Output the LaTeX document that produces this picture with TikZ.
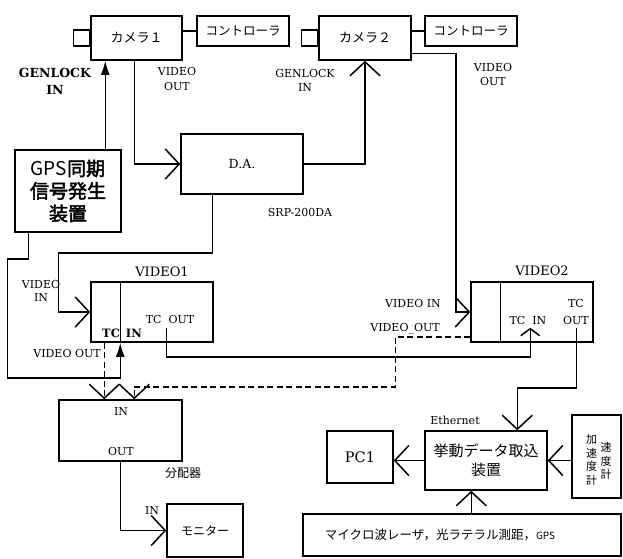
\documentclass[tikz,border=0pt]{standalone}
\usepackage{fontspec}
\setmainfont{DejaVu Serif}
\newfontfamily\cjk{Noto Sans CJK JP}
\newfontfamily\cjkb[FakeBold=2.5]{Noto Sans CJK JP}
\usetikzlibrary{arrows.meta,calc}
\begin{document}
\begin{tikzpicture}[x=1pt,y=-1pt,line width=1.5pt,
  bx/.style={draw,inner sep=0pt},
  lbl/.style={inner sep=0pt,align=center,font=\fontsize{11}{14}\selectfont},
  oa/.style={-{Straight Barb[length=14pt,width=30pt]}},
  sa/.style={-{Straight Barb[length=7pt,width=19pt]}},
  fa/.style={-{Latex[length=14pt,width=9pt]}},
  dsh/.style={dash pattern=on 6pt off 3.5pt}]
\useasboundingbox (0,0) rectangle (623,558);
% boxes
\node[bx,minimum width=91pt,minimum height=44pt,font=\cjk\fontsize{13}{15}\selectfont] (cam1) at (136.5,38) {カメラ１};
\node[bx,minimum width=16pt,minimum height=16pt,anchor=east] (plug1) at (cam1.west) {};
\node[bx,minimum width=92pt,minimum height=30pt,font=\cjk\fontsize{12.5}{15}\selectfont] (ctrl1) at (243,31) {コントローラ};
\node[bx,minimum width=92pt,minimum height=44pt,font=\cjk\fontsize{13}{15}\selectfont] (cam2) at (365,38) {カメラ２};
\node[bx,minimum width=16pt,minimum height=16pt,anchor=east] (plug2) at (cam2.west) {};
\node[bx,minimum width=92pt,minimum height=30pt,font=\cjk\fontsize{12.5}{15}\selectfont] (ctrl2) at (471,31) {コントローラ};
\draw (ctrl1.west) -- (ctrl1.west -| cam1.east);
\draw (ctrl2.west) -- (ctrl2.west -| cam2.east);
\node[bx,minimum width=122pt,minimum height=60pt,font=\fontsize{12.5}{15}\selectfont] (DA) at (242,164) {D.A.};
\node[bx,minimum width=106pt,minimum height=82pt,align=center,font=\fontsize{19}{22.5}\selectfont] (GPS) at (68,191) {{\cjk GPS}{\cjkb 同期}\\{\cjkb 信号発生}\\{\cjkb 装置}};
\node[bx,minimum width=122pt,minimum height=60pt] (VIDEO1) at (152,312) {};
\draw ([xshift=30pt]VIDEO1.north west) -- ([xshift=30pt]VIDEO1.south west);
\node[bx,minimum width=122pt,minimum height=60pt] (VIDEO2) at (532,312) {};
\draw ([xshift=30pt]VIDEO2.north west) -- ([xshift=30pt]VIDEO2.south west);
\node[bx,minimum width=123pt,minimum height=61pt] (dist) at (120.5,430.5) {};
\node[bx,minimum width=76pt,minimum height=53pt,font=\cjk\fontsize{12}{14}\selectfont] (monitor) at (205,530.5) {モニター};
\node[bx,minimum width=66pt,minimum height=52pt,font=\fontsize{14.5}{16}\selectfont] (PC1) at (360,457) {PC1};
\node[bx,minimum width=122pt,minimum height=59pt,align=center,font=\cjk\fontsize{15}{19}\selectfont] (kyodo) at (486,460.5) {挙動データ取込\\装置};
\node[bx,minimum width=49pt,minimum height=83pt] (accel) at (596.5,456.5) {};
\node[inner sep=0pt,align=center,font=\cjk\fontsize{11}{13.5}\selectfont] (acc1) at (591.5,460) {加\\速\\度\\計};
\node[inner sep=0pt,align=center,font=\cjk\fontsize{11}{13.5}\selectfont] (acc2) at (606,461) {速\\度\\計};
\node[bx,minimum width=318pt,minimum height=42pt] (bottom) at (462,535) {};
\node[inner sep=0pt,font=\cjk\fontsize{12.5}{14}\selectfont] (btxt) at (440,535) {マイクロ波レーザ，光ラテラル測距，{\fontsize{10}{12}\selectfont GPS}};
% ports
\coordinate (c1gl) at ([xshift=15pt]cam1.south west);
\coordinate (c1vo) at ([xshift=44pt]cam1.south west);
\coordinate (c2vo) at ([yshift=-38pt]cam2.north east);
\coordinate (dao) at ([xshift=32pt]DA.south west);
\coordinate (gpso) at ([xshift=14pt]GPS.south west);
\coordinate (v1tcin) at ([xshift=30pt]VIDEO1.south west);
\coordinate (v1tcout) at ([xshift=76pt,yshift=15pt]VIDEO1.south west);
\coordinate (v1vo) at ([xshift=14pt]VIDEO1.south west);
\coordinate (v2tcin) at ([xshift=60pt,yshift=15pt]VIDEO2.south west);
\coordinate (v2tcout) at ([xshift=106pt,yshift=15pt]VIDEO2.south west);
\coordinate (v2vo) at ([yshift=6pt]VIDEO2.south west);
\coordinate (din1) at ([xshift=46pt]dist.north west);
\coordinate (din2) at ([xshift=76pt]dist.north west);
\coordinate (kin) at ([xshift=93pt]kyodo.north west);
\coordinate (bout) at ([xshift=169pt]bottom.north west);
% connectors
\draw[fa] (c1gl |- GPS.north) -- (c1gl);
\draw[oa] (c1vo) |- (DA.west);
\draw[oa] (DA.east) -| (cam2.south);
\draw[oa] (c2vo) -- ++(44,0) |- (VIDEO2.west);
\draw[oa] (dao) -- ++(0,58) -- ++(-154,0) |- (VIDEO1.west);
\draw[fa] (gpso) -- ++(0,26) -- ++(-21,0) -- ++(0,119) -| (v1tcin);
\draw[sa] (v1tcout) -- ++(0,29) -| (v2tcin);
\draw[oa,dsh] (v1vo) -- (din1);
\draw[oa,dsh] (v2vo) -- ++(-75,0) -- ++(0,50) -| (din2);
\draw[oa] (dist.south) |- (monitor.west);
\draw[oa] (v2tcout) -- ++(0,60) -| (kin);
\draw[oa] (kyodo.west) -- (kyodo.west -| PC1.east);
\draw[oa] (accel.west |- kyodo.east) -- (kyodo.east);
\draw[oa] (bout) -- (bout |- kyodo.south);
% labels
\node[lbl,font=\bfseries\fontsize{12.5}{17}\selectfont] (glk1) at (55,81.5) {GENLOCK\\IN};
\node[lbl,font=\fontsize{11}{15}\selectfont] (vo1) at (177,78.5) {VIDEO\\OUT};
\node[lbl,font=\fontsize{11}{14}\selectfont] (glk2) at (305,80) {GENLOCK\\IN};
\node[lbl,font=\fontsize{11}{14}\selectfont] (vo2) at (493,74.5) {VIDEO\\OUT};
\node[lbl] (srp) at (300,212) {SRP-200DA};
\node[lbl,font=\fontsize{13}{15}\selectfont] (v1t) at (162,272) {VIDEO1};
\node[lbl,font=\fontsize{13}{15}\selectfont] (v2t) at (542,271) {VIDEO2};
\node[lbl,font=\fontsize{11}{13}\selectfont] (vin1) at (41,290.5) {VIDEO\\IN};
\node[lbl] (tco1) at (170,319) {TC\hspace{7pt}OUT};
\node[lbl,font=\bfseries\fontsize{11.5}{14}\selectfont] (tci1) at (122,333) {TC\hspace{6pt}IN};
\node[lbl] (vo3) at (67,353) {VIDEO OUT};
\node[lbl] (vin2) at (413,303) {VIDEO IN};
\node[lbl] (vo4) at (405,329) {VIDEO\_OUT};
\node[lbl] (tci2) at (528,320) {TC\hspace{7pt}IN};
\node[lbl,font=\fontsize{11}{17}\selectfont] (tco2) at (576,311.5) {TC\\OUT};
\node[lbl] (din) at (121,412) {IN};
\node[lbl] (dout) at (121,451) {OUT};
\node[inner sep=0pt,font=\cjk\fontsize{12}{14}\selectfont] (bunpai) at (183,473) {分配器};
\node[lbl] (monin) at (152,511) {IN};
\node[lbl] (eth) at (455,420) {Ethernet};
\end{tikzpicture}
\end{document}
